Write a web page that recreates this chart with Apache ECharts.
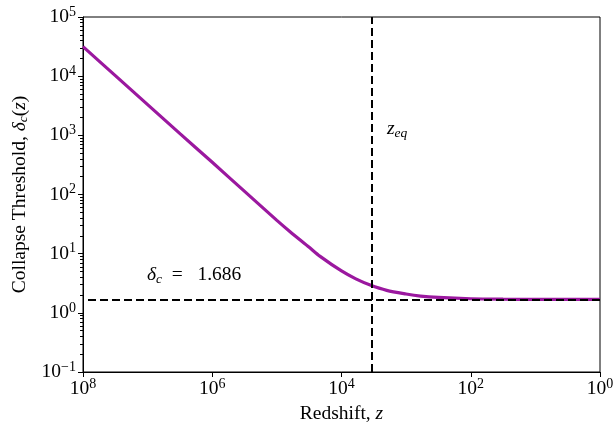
<!doctype html>
<html lang="en">
  <head>
    <meta charset="UTF-8" />
    <title>collapse threshold</title>
    <script src="https://cdn.jsdelivr.net/npm/echarts@6/dist/echarts.min.js"></script>
    <style>
      * { margin: 0; padding: 0; }
      html, body, #chart { width: 614px; height: 424px; overflow: hidden; background: #fff; }
    </style>
  </head>
  <body>
    <div id="chart"></div>
    <script>
      // values
      const redshift = [1e8, 3.16e7, 1e7, 3.16e6, 1e6, 3.16e5, 1e5, 6.25e4, 3.16e4, 2.14e4, 1e4,
        6000, 3600, 2000, 1000, 600, 316, 100, 31.6, 10, 3.16, 1];
      const deltaC = [31500, 10200, 3300, 1070, 350, 113, 36.5, 23.5, 12.8, 9.0, 5.1,
        3.75, 2.95, 2.4, 2.08, 1.92, 1.82, 1.73, 1.70, 1.692, 1.688, 1.686];
      const zEq = 3400;
      const deltaCrit = 1.686;
      const xMajor = [1, 1e2, 1e4, 1e6, 1e8];
      const yMajor = [1e-1, 1, 1e1, 1e2, 1e3, 1e4, 1e5];

      const yMinor = [];
      for (let e = -1; e < 5; e++) {
        for (let m = 2; m <= 9; m++) yMinor.push(m * Math.pow(10, e));
      }

      const font = '"Liberation Serif", "DejaVu Serif", serif';
      const powLabel = function (v) {
        const e = Math.round(Math.log10(v));
        return '10{sup|' + (e < 0 ? '\u2212' + (-e) : e) + '}';
      };
      const tickRich = {
        sup: { fontSize: 14, fontFamily: font, color: '#000', padding: [0, 0, 10, 0] }
      };

      const chart = echarts.init(document.getElementById('chart'));
      chart.setOption({
        animation: false,
        grid: {
          left: 83, right: 14, top: 17, bottom: 52, outerBoundsMode: 'none', containLabel: false,
          show: true, borderColor: '#000', borderWidth: 1, backgroundColor: 'transparent'
        },
        xAxis: {
          type: 'log', logBase: 10, min: 1, max: 1e8, inverse: true,
          name: 'Redshift, {i|z}', nameLocation: 'middle', nameGap: 29,
          nameTextStyle: {
            fontFamily: font, fontSize: 19.5, color: '#000',
            rich: { i: { fontFamily: font, fontSize: 19.5, fontStyle: 'italic', color: '#000' } }
          },
          axisLine: { lineStyle: { color: '#000', width: 1 } },
          axisTick: { customValues: xMajor, length: 5, inside: false, lineStyle: { color: '#000' } },
          axisLabel: {
            customValues: xMajor, formatter: powLabel, margin: 5,
            fontFamily: font, fontSize: 19.5, color: '#000', rich: tickRich
          },
          splitLine: { show: false }
        },
        yAxis: [{
          type: 'log', logBase: 10, min: 0.1, max: 1e5,
          name: 'Collapse Threshold, {i|\u03b4}{sub|c}({i|z})', nameLocation: 'middle', nameGap: 53,
          nameTextStyle: {
            fontFamily: font, fontSize: 19.5, color: '#000',
            rich: {
              i: { fontFamily: font, fontSize: 19.5, fontStyle: 'italic', color: '#000' },
              sub: { fontFamily: font, fontSize: 13.5, fontStyle: 'italic', color: '#000', padding: [7, 0, 0, 0] }
            }
          },
          axisLine: { lineStyle: { color: '#000', width: 1 } },
          axisTick: { customValues: yMajor, length: 5, lineStyle: { color: '#000' } },
          axisLabel: {
            customValues: yMajor, formatter: powLabel, margin: 7,
            fontFamily: font, fontSize: 19.5, color: '#000', rich: tickRich
          },
          splitLine: { show: false }
        }, {
          type: 'log', logBase: 10, min: 0.1, max: 1e5, position: 'left',
          axisLine: { show: false },
          axisTick: { customValues: yMinor, length: 3, lineStyle: { color: '#000' } },
          axisLabel: { show: false },
          splitLine: { show: false }
        }],
        graphic: [{
          type: 'text', left: 387, top: 119,
          style: {
            text: '{i|z}{sub|eq}',
            rich: {
              i: { fontFamily: font, fontSize: 19.5, fontStyle: 'italic', fill: '#000' },
              sub: { fontFamily: font, fontSize: 13.5, fontStyle: 'italic', fill: '#000', padding: [8, 0, 0, 0] }
            }
          }
        }, {
          type: 'text', left: 147, top: 265,
          style: {
            text: '{i|\u03b4}{sub|c}  =   1.686',
            fontFamily: font, fontSize: 19.5, fill: '#000',
            rich: {
              i: { fontFamily: font, fontSize: 19.5, fontStyle: 'italic', fill: '#000' },
              sub: { fontFamily: font, fontSize: 13.5, fontStyle: 'italic', fill: '#000', padding: [8, 0, 0, 0] }
            }
          }
        }],
        series: [{
          type: 'line',
          data: redshift.map((z, i) => [z, deltaC[i]]),
          showSymbol: false,
          smooth: 0.3,
          lineStyle: { color: '#9b189f', width: 3.2 },
          z: 3,
          markLine: {
            silent: true,
            symbol: 'none',
            label: { show: false },
            lineStyle: { color: '#000', width: 2, type: [8, 4] },
            data: [{ xAxis: zEq }, { yAxis: deltaCrit }]
          }
        }]
      });
    </script>
  </body>
</html>
